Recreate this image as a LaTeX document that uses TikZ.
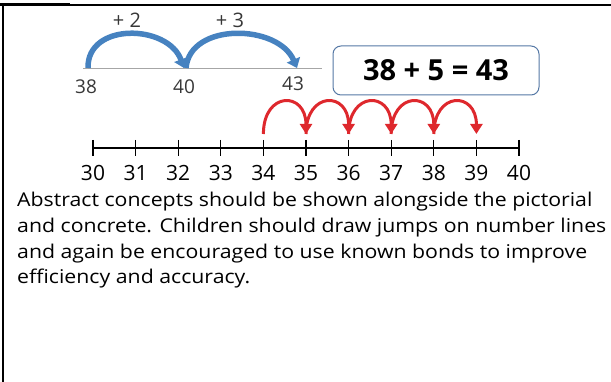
\documentclass[tikz,border=0pt]{standalone}
\usepackage{fontspec}
\setmainfont{Open Sans}
\newfontfamily\parafont[FakeStretch=1.12]{Open Sans}
\usetikzlibrary{arrows.meta}
\definecolor{arrowblue}{RGB}{70,130,192}
\definecolor{boxblue}{RGB}{85,120,165}
\definecolor{jumpred}{RGB}{222,40,45}
\definecolor{labelgray}{RGB}{55,55,55}
\tikzset{
  bluejump/.style={draw=arrowblue, line width=5.5pt, -{Triangle[length=9pt,width=14pt]}},
  redjump/.style={draw=jumpred, line width=3pt, -{Triangle[length=10pt,width=12pt]}},
  toplabel/.style={text=labelgray, font=\fontsize{19}{22}\selectfont},
  jumplabel/.style={text=labelgray, font=\fontsize{20}{23}\selectfont},
  numlabel/.style={font=\fontsize{21}{24}\selectfont, anchor=base},
  tick/.style={line width=1.2pt},
}
\begin{document}
\begin{tikzpicture}[x=1pt,y=-1pt]
\useasboundingbox (0,0) rectangle (611,382);
% frame
\draw[line width=2pt] (0,5) -- (611,5);
\draw[line width=3pt] (0,5) -- (70,5);
\draw[line width=2.5pt] (3,4) -- (3,382);
% top number line
\coordinate (la) at (83,69);
\coordinate (lb) at (322,69);
\draw[gray!70, line width=1pt] (la) -- (lb);
\coordinate (p38) at (88,68);
\coordinate (p40) at (184,68);
\coordinate (p43) at (297,68);
\node[toplabel] (l38) at (86,87) {38};
\node[toplabel] (l40) at (184,87) {40};
\node[toplabel] (l43) at (293,84) {43};
\node[jumplabel] (plus2) at (127,20) {+ 2};
\node[jumplabel] (plus3) at (230,20) {+ 3};
\draw[bluejump] (p38) .. controls (87,22) and (168,24) .. (p40);
\draw[bluejump] ([xshift=2pt]p40) .. controls (190,22) and (278,24) .. (p43);
% equation box
\node[draw=boxblue, line width=1pt, rounded corners=8pt, minimum width=206pt, minimum height=49pt,
      font=\fontsize{29}{32}\selectfont\bfseries] (eq) at (436,70.5) {38 + 5 = 43};
% lower number line
\coordinate (n0) at (93,148);
\coordinate (n10) at (519,148);
\draw[line width=1.2pt] (n0) -- (n10);
\foreach \i [evaluate=\i as \xx using 93+42.6*\i, evaluate=\i as \lab using int(30+\i)] in {0,...,10} {
  \draw[tick] (\xx,140) -- (\xx,156);
  \node[numlabel] (t\i) at (\xx,181) {\lab};
}
\foreach \i in {4,...,8} {
  \pgfmathsetmacro{\xa}{93+42.6*\i}
  \pgfmathsetmacro{\xb}{93+42.6*(\i+1)}
  \coordinate (ra\i) at (\xa,134);
  \coordinate (rb\i) at (\xb,134);
  \draw[redjump] (ra\i) .. controls (\xa,91) and (\xb,91) .. (rb\i);
}
% text
\node[anchor=base west, align=left, inner sep=0pt, font=\parafont\fontsize{19}{25.7}\selectfont] (para) at (17,284)
{Abstract concepts should be shown alongside the pictorial\\
and concrete. Children should draw jumps on number lines\\
and again be encouraged to use known bonds to improve\\
efficiency and accuracy.};
\end{tikzpicture}
\end{document}
